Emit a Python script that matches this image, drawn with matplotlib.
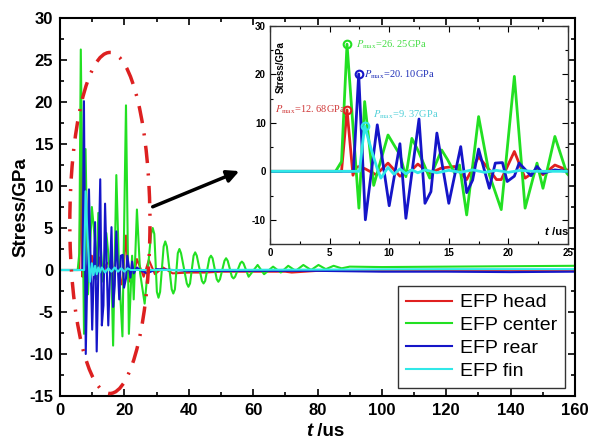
import numpy as np
import matplotlib
matplotlib.use('Agg')
import matplotlib.pyplot as plt
from matplotlib.patches import Ellipse
from matplotlib.ticker import MultipleLocator

plt.rcParams['font.family'] = ['Liberation Sans', 'DejaVu Sans']
plt.rcParams['mathtext.fontset'] = 'stix'
plt.rcParams['axes.unicode_minus'] = False

# 各部位应力时程 (t: us, 应力: GPa)
t_head = [0, 6.0, 6.46, 6.96, 7.2, 7.5, 8.0, 8.9, 9.9, 10.9, 11.9, 12.4, 13.4, 14.4, 15.5,
          16.5, 17.5, 18.4, 19.0, 19.4, 20.5, 21.4, 22.4, 22.9, 23.9, 24.9, 26.0, 27.6, 29.5,
          32.0, 35.0, 40.0, 45.0, 50.0, 60.0, 70.0, 72.0, 80.0, 90.0, 100.0, 160.0]
v_head = [0, 0, 12.68, -0.8, 0.8, 1.0, 0.5, -0.7, 1.7, -1.0, 0.3, 1.5, -0.4, 0.7, 1.0,
          -1.7, 3.0, 0.3, -1.7, -1.7, 4.1, -1.4, 0.3, -0.7, 1.3, 0.3, -0.8, 1.2, -0.5,
          0.3, -0.4, -0.3, -0.3, -0.2, -0.2, -0.2, -0.3, -0.1, -0.1, 0.0, 0.0]

t_center = [0, 5.5, 6.0, 6.46, 7.46, 7.94, 8.7, 9.9, 10.9, 11.4, 11.9, 12.4, 13.4, 14.4, 14.9,
            15.5, 15.9, 16.5, 17.5, 18.4, 19.4, 20.5, 21.4, 22.4, 22.9, 23.9, 24.9, 26.3,
            28.3, 28.8, 29.3, 30.1, 30.6, 31.1, 32.2, 32.7, 33.2,
            34.7, 35.2, 35.7, 36.6, 37.1, 37.6, 39.4, 39.9, 40.4, 41.5, 42.0, 42.5,
            44.1, 44.6, 45.1, 46.4, 46.9, 47.4, 48.7, 49.2, 49.7, 51.1, 51.6, 52.1,
            53.4, 53.9, 54.4, 56.0, 56.5, 57.0, 58.6, 61.4,
            63.4, 66.2, 68.6, 70.9, 73.2, 75.6, 78.0, 80.3, 82.6, 85.0, 87.5, 90.0, 100.0,
            120.0, 140.0, 160.0]
v_center = [0, 0, 2.0, 26.25, -7.6, 14.4, -2.9, 7.5, 3.4, -1.1, 6.8, 4.4, -1.4, 4.4, 2.4,
            -0.4, 1.3, -9.0, 11.3, -0.7, -7.9, 19.6, -7.6, 1.7, -3.5, 7.2, -0.4, -4.0,
            4.3, 5.0, 4.3, -2.6, -3.3, -2.6, 2.8, 3.4, 2.8,
            -2.3, -2.8, -2.3, 2.0, 2.5, 2.0, -1.6, -2.0, -1.6, 1.7, 2.1, 1.7,
            -1.3, -1.6, -1.3, 1.4, 1.7, 1.4, -1.1, -1.4, -1.1, 1.1, 1.4, 1.1,
            -0.8, -1.0, -0.8, 0.8, 1.0, 0.8, -0.8, 0.6,
            -0.5, 0.4, -0.3, 0.5, -0.1, 0.6, 0.0, 0.6, 0.1, 0.5, 0.2, 0.4, 0.35,
            0.4, 0.45, 0.5]

t_rear = [0, 7.0, 7.44, 8.0, 9.0, 10.0, 10.9, 11.4, 12.5, 13.0, 13.5, 14.0, 15.0, 16.0, 16.5,
          17.0, 17.5, 18.4, 18.9, 19.5, 19.9, 20.5, 20.9, 21.9, 22.4, 22.9, 23.9, 24.9, 27.0,
          30.0, 40.0, 60.0, 80.0, 100.0, 120.0, 140.0, 160.0]
v_rear = [0, 0, 20.10, -10.0, 9.6, -7.1, 5.7, -9.7, 10.8, -6.6, -4.2, 7.9, -6.6, 5.1, -4.4,
          -1.8, 4.6, -3.5, 1.7, 1.8, -2.1, -1.0, 1.7, -0.9, 1.0, -0.4, 0.3, 0.0, -0.4,
          0.1, -0.1, -0.1, -0.1, -0.2, -0.2, -0.25, -0.2]

t_fin = [0, 7.5, 7.94, 8.5, 9.0, 9.3, 9.9, 10.4, 10.9, 11.4, 11.9, 12.4, 13.0, 14.0, 15.0,
         16.0, 17.0, 18.0, 19.0, 20.0, 21.0, 22.0, 25.0, 40.0, 80.0, 120.0, 160.0]
v_fin = [0, 0, 9.37, 4.5, 0.5, -1.4, 0.8, -0.6, 0.5, -0.5, 0.3, -0.3, 0.3, -0.3, 0.2,
         -0.2, 0.3, -0.2, 0.2, -0.2, 0.2, 0.0, 0.0, 0.0, 0.05, 0.1, 0.1]

labels = ['EFP head', 'EFP center', 'EFP rear', 'EFP fin']
colors = ['#e02020', '#22e022', '#1515c8', '#30e8e8']
series = [(t_head, v_head), (t_center, v_center), (t_rear, v_rear), (t_fin, v_fin)]

# 峰值点 (时刻, 峰值)
peak_t = [6.46, 6.46, 7.44, 7.94]
peak_v = [12.68, 26.25, 20.10, 9.37]
txt_colors = ['#d03838', '#44dd44', '#2030b8', '#50d0d8']
txt_pos = [(0.4, 12.7), (7.2, 26.2), (7.9, 19.9), (8.6, 11.6)]

fig = plt.figure(figsize=(5.91, 4.43), dpi=100)
ax = fig.add_axes([60 / 591, 47 / 443, 515 / 591, 378 / 443])

for (t, v), c, lab in zip(series, colors, labels):
    ax.plot(t, v, color=c, lw=1.5, label=lab)

ax.set_xlim(0, 160)
ax.set_ylim(-15, 30)
ax.xaxis.set_major_locator(MultipleLocator(20))
ax.xaxis.set_minor_locator(MultipleLocator(10))
ax.yaxis.set_major_locator(MultipleLocator(5))
ax.yaxis.set_minor_locator(MultipleLocator(2.5))
ax.tick_params(which='both', direction='in', top=True, right=True, width=1.2)
ax.tick_params(which='major', length=5, labelsize=12, pad=5)
ax.tick_params(which='minor', length=3)
for lb in ax.get_xticklabels() + ax.get_yticklabels():
    lb.set_fontweight('bold')
for sp in ax.spines.values():
    sp.set_linewidth(1.5)
ax.set_ylabel('Stress/GPa', fontsize=13.5, fontweight='bold', labelpad=0)
fig.text(312 / 591, 7 / 443, 't', ha='right', va='baseline', fontsize=13.5,
         fontweight='bold', style='italic')
fig.text(312 / 591, 7 / 443, ' /us', ha='left', va='baseline', fontsize=13.5,
         fontweight='bold')

# 虚线椭圆圈出冲击段
ax.add_patch(Ellipse((15.5, 5.6), 24.9, 40.6, fill=False, ec='#dd2020', lw=2.5,
                     ls=(0, (5, 3, 0.6, 3)), zorder=5))
ax.annotate('', xy=(56.5, 11.9), xytext=(28, 7.4),
            arrowprops=dict(arrowstyle='-|>', color='black', lw=2.5, mutation_scale=18))

leg = ax.legend(loc='lower left', bbox_to_anchor=(0.656, 0.022), fontsize=14,
                frameon=True, fancybox=False, edgecolor='#333333', framealpha=1,
                borderpad=0.4, labelspacing=0.27, handlelength=2.4, handletextpad=0.4,
                borderaxespad=0.0)
leg.get_frame().set_linewidth(1.0)

# 局部放大图 0-25 us
ins = fig.add_axes([270 / 591, 199 / 443, 298 / 591, 218 / 443])
for (t, v), c in zip(series, colors):
    ins.plot(t, v, color=c, lw=2.0)
for pt, pv, c in zip(peak_t, peak_v, colors):
    ins.plot(pt, pv, 'o', mfc='none', mec=c, mew=1.5, ms=5.5)
for (x, y), pv, c in zip(txt_pos, peak_v, txt_colors):
    s = f'{pv:.2f}'.replace('.', '. ')
    ins.text(x, y, r'$P_{\mathrm{max}}$=' + s + 'GPa', color=c, fontsize=7.5,
             family=['Liberation Serif', 'DejaVu Serif'], ha='left', va='center')
ins.set_xlim(0, 25)
ins.set_ylim(-15, 30)
ins.xaxis.set_major_locator(MultipleLocator(5))
ins.xaxis.set_minor_locator(MultipleLocator(2.5))
ins.yaxis.set_major_locator(MultipleLocator(10))
ins.yaxis.set_minor_locator(MultipleLocator(5))
ins.tick_params(which='both', direction='in', top=True, right=True, width=0.8)
ins.tick_params(which='major', length=4, labelsize=7, pad=3)
ins.tick_params(which='minor', length=2)
for lb in ins.get_xticklabels() + ins.get_yticklabels():
    lb.set_fontweight('bold')
for sp in ins.spines.values():
    sp.set_linewidth(1.0)
    sp.set_color('#333333')
ins.text(0.035, 0.93, 'Stress/GPa', transform=ins.transAxes, rotation=90, ha='center',
         va='top', fontsize=7, fontweight='bold')
ins.text(0.935, 0.04, 't', transform=ins.transAxes, ha='right', va='baseline', fontsize=8,
         fontweight='bold', style='italic')
ins.text(0.935, 0.04, ' /us', transform=ins.transAxes, ha='left', va='baseline', fontsize=8,
         fontweight='bold')

fig.savefig('out.png', dpi=100)
